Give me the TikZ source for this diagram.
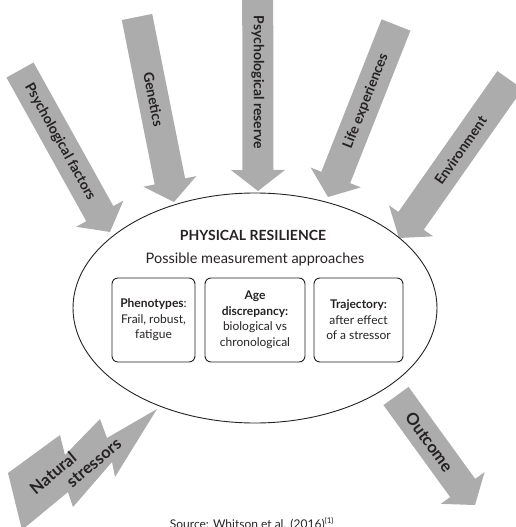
\documentclass[tikz,border=0pt]{standalone}
\usepackage{fontspec}
\setmainfont{Lato}
\usetikzlibrary{calc,shapes.geometric}
\definecolor{arrowgray}{RGB}{172,172,172}
\definecolor{inkgray}{RGB}{38,34,35}

% tail, tip, name, label style, label
\newcommand{\blockarrow}[5]{%
  \coordinate (#3-t) at #1;
  \coordinate (#3-h) at #2;
  \coordinate (#3-b) at ($(#3-h)!21pt!(#3-t)$);
  \fill[arrowfill]($(#3-t)!15.5pt!90:(#3-h)$)--($(#3-b)!15.5pt!90:(#3-h)$)--($(#3-b)!27pt!90:(#3-h)$)
    --(#3-h)--($(#3-b)!27pt!-90:(#3-h)$)--($(#3-b)!15.5pt!-90:(#3-h)$)--($(#3-t)!15.5pt!-90:(#3-h)$)--cycle;
  \path(#3-t)--(#3-b) node[midway,sloped,#4](#3){#5};
}

\begin{document}
\begin{tikzpicture}[x=1pt,y=-1pt,
    arrowfill/.style={fill=arrowgray},
    every node/.style={text=inkgray},
    toplabel/.style={inner sep=0pt,font=\bfseries\fontsize{14}{14}\selectfont},
    botlabel/.style={inner sep=0pt,font=\bfseries\fontsize{16.5}{16.5}\selectfont},
    approach/.style={draw=inkgray,line width=0.9pt,rounded corners=6pt,minimum height=84pt,
      inner sep=2pt,align=center,font=\fontsize{12}{15.5}\selectfont}]
      \useasboundingbox(0,0) rectangle (515,527);
      \blockarrow{(20,70)}{(110,232)}{psyfac}{toplabel}{Psychological factors}
      \blockarrow{(137,17)}{(174,202)}{genet}{toplabel}{Genetics}
      \blockarrow{(257.7,-5)}{(258,191)}{psyres}{toplabel}{Psychological reserve}
      \blockarrow{(396,25)}{(328,197)}{lifeexp}{toplabel}{Life experiences}
      \blockarrow{(510,80)}{(399,238)}{envir}{toplabel}{Environment}
      \blockarrow{(396,396)}{(475,505)}{outcome}{botlabel}{Outcome}
      \fill[arrowfill](22,530)--(8,473)--(60,435)--(65,455)--(100,419)--(107,438)--(157,409)
        --(115,477)--(112,462)--(73,507)--(68,492)--cycle;
      \node[botlabel,rotate=40](natural) at (53,473) {Natural};
      \node[botlabel,rotate=40](stressors) at (94,463) {stressors};
      \node[draw=inkgray,line width=0.9pt,ellipse,minimum width=364pt,minimum height=230pt,inner sep=0pt](resil) at (255,308) {};
      \node[font=\bfseries\fontsize{14}{16}\selectfont](title) at (253,235) {PHYSICAL RESILIENCE};
      \node[font=\fontsize{14.5}{17}\selectfont](subtitle) at (255,259) {Possible measurement approaches};
      \node[approach,minimum width=83pt](pheno) at (153.5,320) {\textbf{Phenotypes}:\\Frail, robust,\\fatigue};
      \node[approach,minimum width=100pt](agedisc) at (255,320) {\textbf{Age}\\\textbf{discrepancy:}\\biological vs\\chronological};
      \node[approach,minimum width=89pt](traj) at (358.5,320) {\textbf{Trajectory:}\\after effect\\of a stressor};
      \node[anchor=base,font=\fontsize{12}{14}\selectfont](source) at (252,528) {Source: Whitson et al. (2016)\textsuperscript{(1)}};
    \end{tikzpicture}
\end{document}
